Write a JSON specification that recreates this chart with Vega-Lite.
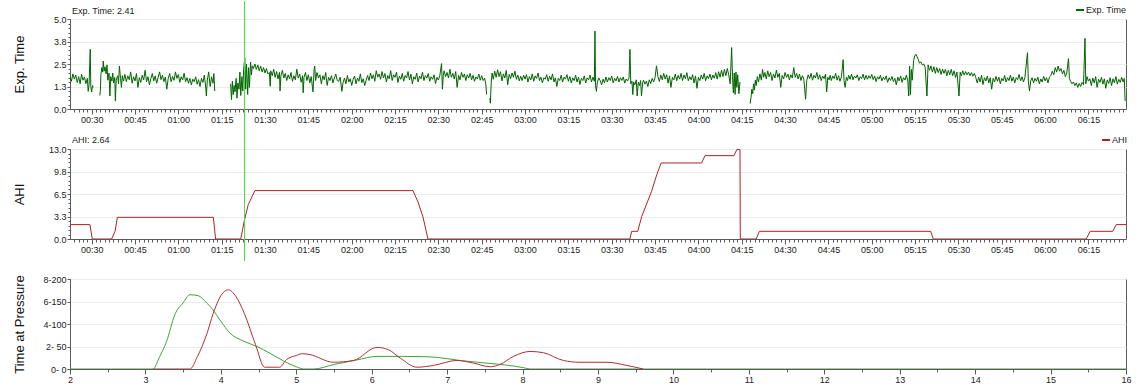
{
"$schema": "https://vega.github.io/schema/vega-lite/v6.json",
"padding": {"left": 12, "top": 0, "right": 5, "bottom": 0},
"spacing": 40,
"bounds": "flush",
"resolve": {"scale": {"x": "independent", "y": "independent", "color": "independent"}, "legend": {"color": "independent"}},
"datasets": {
"exp": [
{"t":22.5,"v":1.83,"s":1},{"t":23,"v":1.54,"s":1},{"t":23.5,"v":1.95,"s":1},{"t":24,"v":1.66,"s":1},{"t":24.5,"v":1.88,"s":1},{"t":25,"v":1.47,"s":1},{"t":25.5,"v":1.80,"s":1},{"t":26,"v":1.40,"s":1},{"t":26.5,"v":1.92,"s":1},{"t":27,"v":1.60,"s":1},{"t":27.5,"v":1.78,"s":1},{"t":28,"v":1.41,"s":1},{"t":28.5,"v":1.70,"s":1},{"t":28.8,"v":0.98,"s":1},{"t":29.1,"v":1.35,"s":1},{"t":29.5,"v":3.32,"s":1},{"t":29.7,"v":1.25,"s":1},{"t":30.0,"v":0.95,"s":1},{"t":30.3,"v":1.30,"s":1},{"t":30.5,"v":1.20,"s":1},
{"t":32.8,"v":0.75,"s":2},{"t":33.0,"v":1.0,"s":2},{"t":33.2,"v":1.90,"s":2},{"t":33.5,"v":2.30,"s":2},{"t":33.8,"v":2.05,"s":2},{"t":34.0,"v":2.66,"s":2},{"t":34.3,"v":2.10,"s":2},{"t":34.6,"v":2.35,"s":2},{"t":35.0,"v":1.95,"s":2},{"t":35.3,"v":2.45,"s":2},{"t":35.6,"v":1.60,"s":2},{"t":36.0,"v":2.00,"s":2},{"t":36.3,"v":0.72,"s":2},{"t":36.6,"v":1.80,"s":2},{"t":37.0,"v":1.55,"s":2},{"t":37.3,"v":2.00,"s":2},{"t":37.6,"v":1.45,"s":2},{"t":38.0,"v":1.75,"s":2},{"t":38.2,"v":0.44,"s":2},{"t":38.5,"v":1.60,"s":2},{"t":39.0,"v":1.85,"s":2},{"t":39.3,"v":1.40,"s":2},{"t":39.6,"v":2.39,"s":2},{"t":40.0,"v":1.70,"s":2},{"t":40.3,"v":1.20,"s":2},{"t":40.6,"v":1.85,"s":2},{"t":41.0,"v":1.55,"s":2},
{"t":41.5,"v":1.92,"s":2},{"t":42,"v":1.52,"s":2},{"t":42.5,"v":1.84,"s":2},{"t":43,"v":1.63,"s":2},{"t":43.5,"v":2.06,"s":2},{"t":44,"v":1.43,"s":2},{"t":44.5,"v":1.79,"s":2},{"t":45,"v":1.56,"s":2},{"t":45.5,"v":1.97,"s":2},{"t":46,"v":1.20,"s":2},{"t":46.5,"v":1.74,"s":2},{"t":47,"v":1.48,"s":2},{"t":47.5,"v":1.88,"s":2},{"t":48,"v":1.61,"s":2},{"t":48.5,"v":2.15,"s":2},{"t":49,"v":1.52,"s":2},{"t":49.5,"v":1.79,"s":2},{"t":50,"v":1.34,"s":2},{"t":50.5,"v":1.70,"s":2},{"t":51,"v":1.97,"s":2},{"t":51.5,"v":1.56,"s":2},{"t":52,"v":1.84,"s":2},{"t":52.5,"v":1.43,"s":2},{"t":53,"v":1.74,"s":2},{"t":53.5,"v":2.06,"s":2},{"t":54,"v":1.63,"s":2},{"t":54.5,"v":1.88,"s":2},{"t":55,"v":1.52,"s":2},{"t":55.5,"v":1.77,"s":2},{"t":56,"v":1.10,"s":2},{"t":56.5,"v":1.70,"s":2},{"t":57,"v":1.97,"s":2},{"t":57.5,"v":1.52,"s":2},{"t":58,"v":1.81,"s":2},{"t":58.5,"v":1.59,"s":2},{"t":59,"v":2.06,"s":2},{"t":59.5,"v":1.70,"s":2},{"t":60,"v":1.92,"s":2},{"t":60.5,"v":1.48,"s":2},{"t":61,"v":1.79,"s":2},{"t":61.5,"v":1.61,"s":2},{"t":62,"v":1.99,"s":2},{"t":62.5,"v":1.52,"s":2},{"t":63,"v":1.74,"s":2},{"t":63.5,"v":1.43,"s":2},{"t":64,"v":1.70,"s":2},{"t":64.5,"v":1.34,"s":2},{"t":65,"v":1.66,"s":2},{"t":65.5,"v":1.52,"s":2},{"t":66,"v":1.79,"s":2},{"t":66.5,"v":1.38,"s":2},{"t":67,"v":1.63,"s":2},{"t":67.5,"v":1.25,"s":2},{"t":68,"v":1.70,"s":2},{"t":68.5,"v":1.48,"s":2},{"t":69,"v":1.88,"s":2},{"t":69.5,"v":1.16,"s":2},{"t":69.7,"v":0.72,"s":2},{"t":70,"v":1.56,"s":2},{"t":70.5,"v":2.06,"s":2},{"t":71,"v":1.25,"s":2},{"t":71.5,"v":1.79,"s":2},{"t":72,"v":1.43,"s":2},{"t":72.3,"v":1.97,"s":2},{"t":72.6,"v":1.0,"s":2},
{"t":78.1,"v":1.40,"s":3},{"t":78.4,"v":0.52,"s":3},{"t":78.7,"v":1.55,"s":3},{"t":79.0,"v":0.80,"s":3},{"t":79.3,"v":1.30,"s":3},{"t":79.6,"v":0.95,"s":3},{"t":80.0,"v":1.70,"s":3},{"t":80.3,"v":0.60,"s":3},{"t":80.6,"v":1.45,"s":3},{"t":81.0,"v":1.10,"s":3},{"t":81.3,"v":2.05,"s":3},{"t":81.6,"v":0.75,"s":3},{"t":82.0,"v":1.80,"s":3},{"t":82.3,"v":1.00,"s":3},{"t":82.6,"v":2.20,"s":3},{"t":83.0,"v":2.85,"s":3},{"t":83.3,"v":1.10,"s":3},{"t":83.6,"v":2.50,"s":3},{"t":84.0,"v":0.81,"s":3},{"t":84.3,"v":2.30,"s":3},{"t":84.6,"v":1.20,"s":3},{"t":85.0,"v":2.60,"s":3},{"t":85.3,"v":1.90,"s":3},{"t":85.6,"v":2.40,"s":3},{"t":86.0,"v":2.25,"s":3},{"t":86.5,"v":2.50,"s":3},{"t":87.0,"v":2.20,"s":3},{"t":87.5,"v":2.45,"s":3},{"t":88.0,"v":2.12,"s":3},{"t":88.5,"v":2.38,"s":3},{"t":89.0,"v":2.05,"s":3},{"t":89.5,"v":2.30,"s":3},{"t":90.0,"v":2.00,"s":3},{"t":90.5,"v":2.25,"s":3},{"t":91.0,"v":1.95,"s":3},
{"t":91.5,"v":2.03,"s":3},{"t":91.8,"v":1.26,"s":3},{"t":92.0,"v":2.12,"s":3},{"t":92.5,"v":1.85,"s":3},{"t":93.0,"v":2.21,"s":3},{"t":93.5,"v":1.76,"s":3},{"t":94.0,"v":2.08,"s":3},{"t":94.5,"v":1.67,"s":3},{"t":95.0,"v":2.03,"s":3},{"t":95.2,"v":1.00,"s":3},{"t":95.5,"v":1.85,"s":3},{"t":96.0,"v":2.15,"s":3},{"t":96.5,"v":1.72,"s":3},{"t":97.0,"v":1.98,"s":3},{"t":97.5,"v":1.58,"s":3},{"t":98.0,"v":1.90,"s":3},{"t":98.5,"v":1.67,"s":3},{"t":99.0,"v":2.03,"s":3},{"t":99.5,"v":1.54,"s":3},{"t":100.0,"v":1.85,"s":3},{"t":100.5,"v":1.62,"s":3},{"t":101.0,"v":2.21,"s":3},{"t":101.5,"v":1.72,"s":3},{"t":102.0,"v":1.94,"s":3},{"t":102.5,"v":1.49,"s":3},{"t":103.0,"v":1.85,"s":3},{"t":103.2,"v":0.90,"s":3},{"t":103.5,"v":1.76,"s":3},{"t":104.0,"v":2.03,"s":3},{"t":104.5,"v":1.58,"s":3},{"t":105.0,"v":1.90,"s":3},{"t":105.5,"v":1.45,"s":3},{"t":106.0,"v":1.80,"s":3},{"t":106.6,"v":0.95,"s":3},{"t":107.0,"v":2.20,"s":3},{"t":107.2,"v":2.39,"s":3},{"t":107.5,"v":1.58,"s":3},{"t":108.0,"v":2.03,"s":3},{"t":108.5,"v":1.72,"s":3},{"t":109.0,"v":1.90,"s":3},{"t":109.5,"v":1.40,"s":3},{"t":110.0,"v":1.85,"s":3},{"t":110.5,"v":1.62,"s":3},{"t":111.0,"v":2.03,"s":3},{"t":111.5,"v":1.31,"s":3},{"t":112.0,"v":1.76,"s":3},{"t":112.5,"v":1.58,"s":3},{"t":113.0,"v":1.85,"s":3},{"t":113.5,"v":1.45,"s":3},{"t":114.0,"v":1.72,"s":3},{"t":114.5,"v":1.94,"s":3},{"t":115.0,"v":1.58,"s":3},
{"t":115.5,"v":1.54,"s":3},{"t":116.0,"v":1.77,"s":3},{"t":116.6,"v":0.98,"s":3},{"t":117.0,"v":1.46,"s":3},{"t":117.5,"v":1.72,"s":3},{"t":118.0,"v":1.40,"s":3},{"t":118.5,"v":1.86,"s":3},{"t":119.0,"v":1.50,"s":3},{"t":119.5,"v":1.68,"s":3},{"t":120.0,"v":1.31,"s":3},{"t":120.5,"v":1.65,"s":3},{"t":121.0,"v":1.83,"s":3},{"t":121.5,"v":1.40,"s":3},{"t":122.0,"v":1.72,"s":3},{"t":122.5,"v":1.54,"s":3},{"t":123.0,"v":1.95,"s":3},{"t":123.5,"v":1.46,"s":3},{"t":124.0,"v":1.68,"s":3},{"t":124.5,"v":1.30,"s":3},{"t":125.0,"v":1.60,"s":3},{"t":125.5,"v":1.86,"s":3},{"t":126.0,"v":1.58,"s":3},{"t":126.5,"v":2.00,"s":3},{"t":127.0,"v":1.68,"s":3},{"t":127.5,"v":1.90,"s":3},{"t":128.0,"v":1.54,"s":3},{"t":128.5,"v":2.13,"s":3},{"t":129.0,"v":1.77,"s":3},{"t":129.5,"v":1.95,"s":3},{"t":130.0,"v":1.65,"s":3},{"t":130.5,"v":2.08,"s":3},{"t":131.0,"v":1.72,"s":3},{"t":131.5,"v":1.97,"s":3},{"t":132.0,"v":1.50,"s":3},{"t":132.5,"v":1.86,"s":3},{"t":133.0,"v":1.68,"s":3},{"t":133.5,"v":2.13,"s":3},{"t":134.0,"v":1.58,"s":3},{"t":134.5,"v":1.90,"s":3},{"t":135.0,"v":1.76,"s":3},{"t":135.5,"v":2.04,"s":3},{"t":136.0,"v":1.47,"s":3},{"t":136.5,"v":1.83,"s":3},{"t":137.0,"v":1.65,"s":3},{"t":137.5,"v":1.97,"s":3},{"t":138.0,"v":1.54,"s":3},{"t":138.5,"v":1.86,"s":3},{"t":139.0,"v":1.72,"s":3},{"t":139.5,"v":2.08,"s":3},{"t":140.0,"v":1.61,"s":3},{"t":140.5,"v":1.94,"s":3},{"t":141.0,"v":1.40,"s":3},{"t":141.5,"v":1.79,"s":3},{"t":142.0,"v":1.65,"s":3},{"t":142.5,"v":2.00,"s":3},{"t":143.0,"v":1.50,"s":3},{"t":143.5,"v":1.83,"s":3},{"t":144.0,"v":1.68,"s":3},{"t":144.5,"v":2.04,"s":3},{"t":145.0,"v":1.58,"s":3},{"t":145.5,"v":1.86,"s":3},{"t":146.0,"v":1.72,"s":3},{"t":146.5,"v":1.97,"s":3},{"t":147.0,"v":1.54,"s":3},{"t":147.5,"v":1.79,"s":3},{"t":148.0,"v":1.65,"s":3},{"t":148.5,"v":1.90,"s":3},{"t":149.0,"v":1.41,"s":3},{"t":149.5,"v":1.76,"s":3},{"t":150.0,"v":1.61,"s":3},{"t":150.5,"v":1.86,"s":3},{"t":151.1,"v":2.52,"s":3},{"t":151.4,"v":1.10,"s":3},{"t":151.7,"v":1.85,"s":3},
{"t":152.0,"v":2.12,"s":3},{"t":152.5,"v":1.79,"s":3},{"t":153.0,"v":2.03,"s":3},{"t":153.5,"v":1.72,"s":3},{"t":154.0,"v":2.21,"s":3},{"t":154.5,"v":1.76,"s":3},{"t":155.0,"v":1.98,"s":3},{"t":155.5,"v":1.67,"s":3},{"t":156.0,"v":2.08,"s":3},{"t":156.5,"v":1.20,"s":3},{"t":157.0,"v":1.87,"s":3},{"t":157.5,"v":1.62,"s":3},{"t":158.0,"v":2.03,"s":3},{"t":158.5,"v":1.76,"s":3},{"t":159.0,"v":1.94,"s":3},{"t":159.5,"v":1.58,"s":3},{"t":160.0,"v":1.90,"s":3},{"t":160.5,"v":1.72,"s":3},{"t":161.0,"v":1.98,"s":3},{"t":161.5,"v":1.62,"s":3},{"t":162.0,"v":1.87,"s":3},{"t":162.5,"v":1.54,"s":3},{"t":163.0,"v":1.78,"s":3},{"t":163.5,"v":1.67,"s":3},{"t":164.0,"v":1.94,"s":3},{"t":164.5,"v":1.60,"s":3},{"t":165.0,"v":1.85,"s":3},{"t":165.5,"v":1.58,"s":3},{"t":166.0,"v":1.72,"s":3},{"t":166.4,"v":1.40,"s":3},{"t":166.7,"v":0.81,"s":3},
{"t":167.8,"v":0.60,"s":4},{"t":168.0,"v":0.32,"s":4},{"t":168.3,"v":1.50,"s":4},{"t":168.6,"v":2.00,"s":4},{"t":169.0,"v":1.65,"s":4},{"t":169.5,"v":2.10,"s":4},{"t":170.0,"v":1.76,"s":4},{"t":170.5,"v":2.18,"s":4},{"t":171.0,"v":1.80,"s":4},{"t":171.5,"v":2.07,"s":4},{"t":172.0,"v":1.56,"s":4},{"t":172.5,"v":1.95,"s":4},{"t":173.0,"v":1.72,"s":4},{"t":173.5,"v":2.14,"s":4},{"t":174.0,"v":1.35,"s":4},{"t":174.5,"v":1.92,"s":4},{"t":175.0,"v":1.69,"s":4},{"t":175.5,"v":2.00,"s":4},{"t":176.0,"v":1.76,"s":4},{"t":176.5,"v":2.10,"s":4},{"t":177.0,"v":1.65,"s":4},{"t":177.5,"v":1.88,"s":4},{"t":178.0,"v":1.56,"s":4},{"t":178.5,"v":1.82,"s":4},
{"t":179.0,"v":1.58,"s":4},{"t":179.5,"v":1.88,"s":4},{"t":180.0,"v":1.66,"s":4},{"t":180.5,"v":1.91,"s":4},{"t":181.0,"v":1.50,"s":4},{"t":181.5,"v":1.80,"s":4},{"t":182.0,"v":1.62,"s":4},{"t":182.5,"v":1.95,"s":4},{"t":183.0,"v":1.54,"s":4},{"t":183.5,"v":1.84,"s":4},{"t":184.0,"v":1.70,"s":4},{"t":184.5,"v":2.00,"s":4},{"t":185.0,"v":1.58,"s":4},{"t":185.5,"v":1.77,"s":4},{"t":186.0,"v":1.45,"s":4},{"t":186.5,"v":1.73,"s":4},{"t":187.0,"v":1.66,"s":4},{"t":187.5,"v":1.91,"s":4},{"t":188.0,"v":1.54,"s":4},{"t":188.5,"v":1.82,"s":4},{"t":189.0,"v":1.62,"s":4},{"t":189.5,"v":1.95,"s":4},{"t":190.0,"v":1.50,"s":4},{"t":190.5,"v":1.73,"s":4},{"t":191.0,"v":1.25,"s":4},{"t":191.5,"v":1.70,"s":4},{"t":192.0,"v":1.58,"s":4},{"t":192.5,"v":1.88,"s":4},{"t":193.0,"v":1.50,"s":4},{"t":193.5,"v":1.77,"s":4},{"t":194.0,"v":1.66,"s":4},{"t":194.5,"v":1.91,"s":4},{"t":195.0,"v":1.54,"s":4},{"t":195.5,"v":1.80,"s":4},{"t":196.0,"v":1.45,"s":4},{"t":196.5,"v":1.73,"s":4},{"t":197.0,"v":1.58,"s":4},{"t":197.5,"v":1.88,"s":4},{"t":198.0,"v":1.50,"s":4},{"t":198.5,"v":1.77,"s":4},{"t":199.0,"v":1.36,"s":4},{"t":199.5,"v":1.70,"s":4},{"t":200.0,"v":1.58,"s":4},{"t":200.5,"v":1.84,"s":4},{"t":201.0,"v":1.45,"s":4},{"t":201.5,"v":1.73,"s":4},{"t":202.0,"v":1.62,"s":4},{"t":202.5,"v":1.88,"s":4},{"t":203.0,"v":1.50,"s":4},{"t":203.5,"v":1.77,"s":4},{"t":204.0,"v":1.54,"s":4},{"t":204.2,"v":4.33,"s":4},{"t":204.4,"v":1.30,"s":4},{"t":204.7,"v":0.98,"s":4},{"t":205.0,"v":1.45,"s":4},{"t":205.5,"v":1.73,"s":4},{"t":206.0,"v":1.58,"s":4},{"t":206.5,"v":1.34,"s":4},{"t":207.0,"v":1.66,"s":4},{"t":207.5,"v":1.45,"s":4},
{"t":208.0,"v":1.78,"s":4},{"t":208.5,"v":1.50,"s":4},{"t":209.0,"v":1.74,"s":4},{"t":209.5,"v":1.58,"s":4},{"t":210.0,"v":1.83,"s":4},{"t":210.5,"v":1.45,"s":4},{"t":211.0,"v":1.70,"s":4},{"t":211.5,"v":1.56,"s":4},{"t":212.0,"v":1.81,"s":4},{"t":212.5,"v":1.50,"s":4},{"t":213.0,"v":1.74,"s":4},{"t":213.5,"v":1.58,"s":4},{"t":214.0,"v":1.78,"s":4},{"t":214.5,"v":1.44,"s":4},{"t":215.0,"v":1.67,"s":4},{"t":215.5,"v":1.56,"s":4},{"t":216.0,"v":1.74,"s":4},{"t":216.3,"v":3.31,"s":4},{"t":216.6,"v":1.40,"s":4},{"t":217.0,"v":1.55,"s":4},{"t":217.3,"v":0.80,"s":4},{"t":217.6,"v":1.50,"s":4},{"t":218.0,"v":1.35,"s":4},{"t":218.5,"v":1.62,"s":4},{"t":218.8,"v":0.72,"s":4},{"t":219.2,"v":1.48,"s":4},{"t":219.6,"v":1.30,"s":4},{"t":220.0,"v":1.58,"s":4},{"t":220.3,"v":0.72,"s":4},{"t":220.7,"v":1.45,"s":4},{"t":221.0,"v":1.60,"s":4},{"t":221.5,"v":1.38,"s":4},{"t":222.0,"v":1.55,"s":4},{"t":222.5,"v":1.25,"s":4},{"t":223.0,"v":1.62,"s":4},{"t":223.5,"v":1.42,"s":4},{"t":224.0,"v":1.70,"s":4},{"t":224.5,"v":1.50,"s":4},{"t":225.0,"v":1.75,"s":4},{"t":225.5,"v":2.40,"s":4},
{"t":226.0,"v":1.80,"s":4},{"t":226.5,"v":1.53,"s":4},{"t":227.0,"v":1.89,"s":4},{"t":227.5,"v":1.62,"s":4},{"t":228.0,"v":1.98,"s":4},{"t":228.5,"v":1.66,"s":4},{"t":229.0,"v":1.91,"s":4},{"t":229.5,"v":1.44,"s":4},{"t":230.0,"v":1.84,"s":4},{"t":230.5,"v":1.20,"s":4},{"t":231.0,"v":1.76,"s":4},{"t":231.5,"v":1.62,"s":4},{"t":232.0,"v":1.94,"s":4},{"t":232.5,"v":1.57,"s":4},{"t":233.0,"v":1.87,"s":4},{"t":233.5,"v":1.66,"s":4},{"t":234.0,"v":1.98,"s":4},{"t":234.5,"v":1.58,"s":4},{"t":235.0,"v":1.89,"s":4},{"t":235.5,"v":1.69,"s":4},{"t":236.0,"v":2.02,"s":4},{"t":236.5,"v":1.57,"s":4},{"t":237.0,"v":1.80,"s":4},{"t":237.5,"v":1.62,"s":4},{"t":238.0,"v":1.91,"s":4},{"t":238.5,"v":1.44,"s":4},{"t":239.0,"v":1.84,"s":4},{"t":239.5,"v":1.15,"s":4},{"t":240.0,"v":1.76,"s":4},{"t":240.5,"v":1.58,"s":4},{"t":241.0,"v":1.89,"s":4},{"t":241.5,"v":1.66,"s":4},{"t":242.0,"v":1.98,"s":4},{"t":242.5,"v":1.57,"s":4},{"t":243.0,"v":1.84,"s":4},{"t":243.5,"v":1.69,"s":4},{"t":244.0,"v":1.94,"s":4},{"t":244.5,"v":1.62,"s":4},{"t":245.0,"v":1.89,"s":4},{"t":245.5,"v":1.71,"s":4},{"t":246.0,"v":2.02,"s":4},{"t":246.5,"v":1.66,"s":4},{"t":247.0,"v":2.07,"s":4},{"t":247.5,"v":1.76,"s":4},{"t":248.0,"v":2.16,"s":4},{"t":248.5,"v":1.80,"s":4},{"t":249.0,"v":2.20,"s":4},{"t":249.5,"v":1.85,"s":4},{"t":250.0,"v":2.25,"s":4},{"t":250.5,"v":1.90,"s":4},{"t":251.0,"v":1.40,"s":4},{"t":251.5,"v":3.41,"s":4},{"t":251.8,"v":1.80,"s":4},{"t":252.1,"v":0.90,"s":4},{"t":252.4,"v":2.00,"s":4},{"t":252.7,"v":0.81,"s":4},{"t":253.0,"v":2.05,"s":4},{"t":253.3,"v":1.20,"s":4},{"t":253.6,"v":1.90,"s":4},{"t":254.0,"v":0.85,"s":4},{"t":254.4,"v":1.50,"s":4},
{"t":257.9,"v":0.30,"s":5},{"t":258.2,"v":0.63,"s":5},{"t":258.5,"v":1.10,"s":5},{"t":258.8,"v":0.85,"s":5},{"t":259.1,"v":1.40,"s":5},{"t":259.4,"v":1.05,"s":5},{"t":259.7,"v":1.60,"s":5},{"t":260.0,"v":1.30,"s":5},{"t":260.4,"v":1.80,"s":5},{"t":260.8,"v":1.50,"s":5},{"t":261.3,"v":1.95,"s":5},
{"t":261.8,"v":1.60,"s":5},{"t":262.2,"v":2.20,"s":5},{"t":262.6,"v":1.76,"s":5},{"t":263.0,"v":2.03,"s":5},{"t":263.5,"v":1.67,"s":5},{"t":264.0,"v":2.12,"s":5},{"t":264.5,"v":1.79,"s":5},{"t":265.0,"v":2.03,"s":5},{"t":265.5,"v":1.58,"s":5},{"t":266.0,"v":1.94,"s":5},{"t":266.5,"v":1.72,"s":5},{"t":267.0,"v":2.16,"s":5},{"t":267.5,"v":1.76,"s":5},{"t":268.0,"v":1.98,"s":5},{"t":268.5,"v":1.20,"s":5},{"t":269.0,"v":1.87,"s":5},{"t":269.5,"v":1.67,"s":5},{"t":270.0,"v":2.03,"s":5},{"t":270.5,"v":1.76,"s":5},{"t":271.0,"v":1.94,"s":5},{"t":271.5,"v":1.62,"s":5},{"t":272.0,"v":1.90,"s":5},{"t":272.5,"v":1.72,"s":5},{"t":273.0,"v":2.30,"s":5},{"t":273.5,"v":1.76,"s":5},{"t":274.0,"v":1.98,"s":5},{"t":274.5,"v":1.67,"s":5},{"t":275.0,"v":1.94,"s":5},{"t":275.5,"v":1.58,"s":5},{"t":276.0,"v":1.85,"s":5},{"t":276.5,"v":1.65,"s":5},{"t":277.1,"v":0.54,"s":5},{"t":277.5,"v":1.58,"s":5},{"t":278.0,"v":1.90,"s":5},{"t":278.5,"v":1.69,"s":5},{"t":279.0,"v":1.98,"s":5},{"t":279.5,"v":1.60,"s":5},{"t":280.0,"v":1.87,"s":5},{"t":280.5,"v":1.72,"s":5},{"t":281.0,"v":2.03,"s":5},{"t":281.5,"v":1.65,"s":5},{"t":282.0,"v":1.90,"s":5},{"t":282.5,"v":1.58,"s":5},{"t":283.0,"v":1.83,"s":5},{"t":283.5,"v":1.69,"s":5},{"t":284.0,"v":1.94,"s":5},{"t":284.4,"v":0.95,"s":5},{"t":284.8,"v":1.76,"s":5},{"t":285.2,"v":1.62,"s":5},{"t":285.6,"v":1.87,"s":5},{"t":286.0,"v":1.58,"s":5},{"t":286.5,"v":1.83,"s":5},{"t":287.0,"v":1.69,"s":5},{"t":287.5,"v":1.98,"s":5},{"t":288.0,"v":1.60,"s":5},{"t":288.5,"v":1.85,"s":5},{"t":289.0,"v":1.54,"s":5},{"t":289.5,"v":1.79,"s":5},{"t":290.1,"v":2.74,"s":5},{"t":290.4,"v":1.58,"s":5},{"t":290.8,"v":1.20,"s":5},{"t":291.2,"v":1.76,"s":5},{"t":291.6,"v":1.58,"s":5},{"t":292.0,"v":1.87,"s":5},{"t":292.5,"v":1.65,"s":5},{"t":293.0,"v":1.94,"s":5},{"t":293.5,"v":1.62,"s":5},{"t":294.0,"v":1.83,"s":5},{"t":294.5,"v":1.72,"s":5},{"t":295.0,"v":1.90,"s":5},{"t":295.5,"v":1.58,"s":5},{"t":296.0,"v":1.79,"s":5},{"t":296.5,"v":1.69,"s":5},{"t":297.0,"v":1.94,"s":5},{"t":297.5,"v":1.62,"s":5},{"t":298.0,"v":1.87,"s":5},{"t":298.5,"v":1.65,"s":5},{"t":299.0,"v":1.85,"s":5},
{"t":299.5,"v":1.70,"s":5},{"t":300.0,"v":1.92,"s":5},{"t":300.5,"v":1.63,"s":5},{"t":301.0,"v":1.84,"s":5},{"t":301.5,"v":1.52,"s":5},{"t":302.0,"v":1.79,"s":5},{"t":302.5,"v":1.66,"s":5},{"t":303.0,"v":1.88,"s":5},{"t":303.5,"v":1.56,"s":5},{"t":304.0,"v":1.77,"s":5},{"t":304.5,"v":1.63,"s":5},{"t":305.0,"v":1.84,"s":5},{"t":305.5,"v":1.48,"s":5},{"t":306.0,"v":1.74,"s":5},{"t":306.5,"v":1.59,"s":5},{"t":307.0,"v":1.81,"s":5},{"t":307.5,"v":1.52,"s":5},{"t":308.0,"v":1.70,"s":5},{"t":308.5,"v":1.34,"s":5},{"t":309.0,"v":1.77,"s":5},{"t":309.5,"v":1.56,"s":5},{"t":310.0,"v":1.84,"s":5},{"t":310.5,"v":1.48,"s":5},{"t":311.0,"v":1.74,"s":5},{"t":311.5,"v":1.61,"s":5},{"t":312.0,"v":1.88,"s":5},{"t":312.5,"v":1.52,"s":5},{"t":312.8,"v":0.72,"s":5},{"t":313.1,"v":2.39,"s":5},{"t":313.4,"v":0.80,"s":5},{"t":313.7,"v":2.20,"s":5},{"t":314.0,"v":1.60,"s":5},{"t":314.5,"v":2.70,"s":5},{"t":314.9,"v":2.95,"s":5},{"t":315.3,"v":3.04,"s":5},{"t":315.7,"v":2.90,"s":5},{"t":316.1,"v":2.75,"s":5},{"t":316.5,"v":2.55,"s":5},{"t":317.0,"v":2.62,"s":5},{"t":317.5,"v":2.45,"s":5},{"t":318.0,"v":2.50,"s":5},{"t":318.5,"v":2.30,"s":5},{"t":319.1,"v":0.72,"s":5},
{"t":319.5,"v":2.45,"s":5},{"t":320.0,"v":2.15,"s":5},{"t":320.5,"v":2.40,"s":5},{"t":321.0,"v":2.05,"s":5},{"t":321.5,"v":2.35,"s":5},{"t":322.0,"v":1.98,"s":5},{"t":322.5,"v":2.30,"s":5},{"t":323.0,"v":2.02,"s":5},{"t":323.5,"v":2.25,"s":5},{"t":324.0,"v":1.92,"s":5},{"t":324.5,"v":2.22,"s":5},{"t":325.0,"v":1.98,"s":5},{"t":325.5,"v":2.20,"s":5},{"t":326.0,"v":1.85,"s":5},{"t":326.5,"v":2.15,"s":5},{"t":327.0,"v":1.90,"s":5},{"t":327.5,"v":2.20,"s":5},{"t":328.0,"v":1.85,"s":5},{"t":328.5,"v":2.12,"s":5},{"t":329.0,"v":1.75,"s":5},{"t":329.5,"v":2.05,"s":5},{"t":330.2,"v":0.72,"s":5},{"t":330.6,"v":2.05,"s":5},{"t":331.0,"v":1.85,"s":5},{"t":331.5,"v":2.12,"s":5},{"t":332.0,"v":1.88,"s":5},{"t":332.5,"v":2.08,"s":5},{"t":333.0,"v":1.90,"s":5},{"t":333.5,"v":2.05,"s":5},{"t":334.0,"v":1.85,"s":5},{"t":334.5,"v":2.02,"s":5},{"t":335.0,"v":1.82,"s":5},{"t":335.5,"v":1.98,"s":5},
{"t":336.0,"v":1.75,"s":5},{"t":336.5,"v":1.45,"s":5},{"t":337.0,"v":1.77,"s":5},{"t":337.5,"v":1.50,"s":5},{"t":338.0,"v":1.88,"s":5},{"t":338.5,"v":1.36,"s":5},{"t":339.0,"v":1.74,"s":5},{"t":339.5,"v":1.56,"s":5},{"t":340.0,"v":1.83,"s":5},{"t":340.5,"v":1.45,"s":5},{"t":341.0,"v":1.74,"s":5},{"t":341.5,"v":1.10,"s":5},{"t":342.0,"v":1.70,"s":5},{"t":342.5,"v":1.50,"s":5},{"t":343.0,"v":1.81,"s":5},{"t":343.5,"v":1.54,"s":5},{"t":344.0,"v":1.77,"s":5},{"t":344.5,"v":1.40,"s":5},{"t":345.0,"v":1.70,"s":5},{"t":345.5,"v":1.56,"s":5},{"t":346.0,"v":1.86,"s":5},{"t":346.5,"v":1.50,"s":5},{"t":347.0,"v":1.74,"s":5},{"t":347.5,"v":1.58,"s":5},{"t":348.0,"v":1.88,"s":5},{"t":348.5,"v":1.54,"s":5},{"t":349.0,"v":1.77,"s":5},{"t":349.5,"v":1.45,"s":5},{"t":350.0,"v":1.74,"s":5},{"t":350.5,"v":1.63,"s":5},{"t":351.0,"v":1.92,"s":5},{"t":351.5,"v":1.56,"s":5},{"t":352.0,"v":1.79,"s":5},{"t":352.5,"v":1.50,"s":5},{"t":353.0,"v":1.74,"s":5},{"t":353.9,"v":3.13,"s":5},{"t":354.2,"v":1.55,"s":5},{"t":354.6,"v":1.00,"s":5},{"t":355.0,"v":1.56,"s":5},{"t":355.5,"v":1.74,"s":5},{"t":356.0,"v":1.45,"s":5},{"t":356.5,"v":1.70,"s":5},{"t":357.0,"v":1.54,"s":5},{"t":357.5,"v":1.77,"s":5},{"t":358.0,"v":1.40,"s":5},{"t":358.5,"v":1.67,"s":5},{"t":359.0,"v":1.50,"s":5},{"t":359.5,"v":1.81,"s":5},{"t":360.0,"v":1.56,"s":5},{"t":360.5,"v":1.74,"s":5},{"t":361.0,"v":1.45,"s":5},{"t":361.5,"v":1.77,"s":5},{"t":362.0,"v":1.85,"s":5},{"t":362.5,"v":2.10,"s":5},{"t":363.0,"v":1.90,"s":5},{"t":363.5,"v":2.30,"s":5},{"t":364.0,"v":2.05,"s":5},{"t":364.5,"v":2.39,"s":5},{"t":365.0,"v":2.10,"s":5},{"t":365.5,"v":2.25,"s":5},{"t":366.0,"v":1.95,"s":5},{"t":366.5,"v":2.15,"s":5},{"t":367.0,"v":1.80,"s":5},{"t":367.5,"v":2.00,"s":5},{"t":368.1,"v":2.80,"s":5},{"t":368.4,"v":1.70,"s":5},{"t":368.8,"v":1.55,"s":5},{"t":369.3,"v":1.40,"s":5},{"t":369.8,"v":1.50,"s":5},{"t":370.3,"v":1.30,"s":5},{"t":370.8,"v":1.45,"s":5},{"t":371.3,"v":1.20,"s":5},{"t":371.8,"v":1.42,"s":5},{"t":372.3,"v":1.25,"s":5},{"t":372.8,"v":1.48,"s":5},{"t":373.3,"v":1.35,"s":5},{"t":373.8,"v":3.93,"s":5},
{"t":374.1,"v":1.40,"s":5},{"t":374.5,"v":1.80,"s":5},{"t":375.0,"v":1.55,"s":5},{"t":375.5,"v":1.68,"s":5},{"t":376.0,"v":1.30,"s":5},{"t":376.5,"v":1.72,"s":5},{"t":377.0,"v":1.45,"s":5},{"t":377.5,"v":1.80,"s":5},{"t":378.0,"v":1.20,"s":5},{"t":378.5,"v":1.65,"s":5},{"t":379.0,"v":1.48,"s":5},{"t":379.5,"v":1.76,"s":5},{"t":380.0,"v":1.38,"s":5},{"t":380.5,"v":1.68,"s":5},{"t":381.0,"v":1.15,"s":5},{"t":381.5,"v":1.62,"s":5},{"t":382.0,"v":1.42,"s":5},{"t":382.5,"v":1.74,"s":5},{"t":383.0,"v":1.30,"s":5},{"t":383.5,"v":1.68,"s":5},{"t":384.0,"v":1.45,"s":5},{"t":384.5,"v":1.80,"s":5},{"t":385.0,"v":1.38,"s":5},{"t":385.5,"v":1.65,"s":5},{"t":386.0,"v":1.48,"s":5},{"t":386.5,"v":1.76,"s":5},{"t":387.0,"v":1.50,"s":5},{"t":387.4,"v":1.70,"s":5},{"t":387.7,"v":0.44,"s":5}
],
"ahi": [
{"t":22.5,"v":2.08},{"t":29.4,"v":2.08},{"t":30.2,"v":0},{"t":36.9,"v":0},{"t":38.1,"v":1.11},{"t":38.9,"v":3.13},{"t":72.1,"v":3.13},{"t":72.9,"v":0},{"t":81.6,"v":0},{"t":82.8,"v":2.56},{"t":84.2,"v":4.97},{"t":86.5,"v":6.99},{"t":141.2,"v":6.99},{"t":142.9,"v":5.4},{"t":144.6,"v":3.3},{"t":146.4,"v":0},{"t":216.3,"v":0},{"t":216.9,"v":1.11},{"t":219.0,"v":1.11},{"t":220.4,"v":3.28},{"t":223.8,"v":6.89},{"t":225.6,"v":9.3},{"t":227.1,"v":10.98},{"t":241.1,"v":10.98},{"t":242.3,"v":12.04},{"t":252.3,"v":12.04},{"t":253.3,"v":12.91},{"t":254.4,"v":12.91},{"t":254.5,"v":0},{"t":260.0,"v":0},{"t":261.1,"v":1.11},{"t":320.4,"v":1.11},{"t":321.3,"v":0},{"t":374.2,"v":0},{"t":375.6,"v":1.11},{"t":383.4,"v":1.11},{"t":384.6,"v":2.08},{"t":388,"v":2.08}
],
"tap": [
{"p":2,"y":0,"k":"g"},{"p":3.1,"y":0,"k":"g"},{"p":3.19,"y":28,"k":"g"},{"p":3.28,"y":61,"k":"g"},{"p":3.39,"y":121,"k":"g"},{"p":3.5,"y":147,"k":"g"},{"p":3.59,"y":165,"k":"g"},{"p":3.7,"y":163,"k":"g"},{"p":3.81,"y":147,"k":"g"},{"p":3.88,"y":135,"k":"g"},{"p":4.0,"y":106,"k":"g"},{"p":4.12,"y":80,"k":"g"},{"p":4.3,"y":62,"k":"g"},{"p":4.48,"y":50,"k":"g"},{"p":4.65,"y":35,"k":"g"},{"p":4.83,"y":18,"k":"g"},{"p":5.0,"y":5,"k":"g"},{"p":5.1,"y":0,"k":"g"},{"p":5.23,"y":0,"k":"g"},{"p":5.5,"y":10,"k":"g"},{"p":5.8,"y":20,"k":"g"},{"p":6.07,"y":28,"k":"g"},{"p":6.4,"y":28,"k":"g"},{"p":6.77,"y":27,"k":"g"},{"p":7.0,"y":23,"k":"g"},{"p":7.17,"y":19,"k":"g"},{"p":7.4,"y":15,"k":"g"},{"p":7.66,"y":11,"k":"g"},{"p":7.9,"y":6,"k":"g"},{"p":8.01,"y":3,"k":"g"},{"p":8.1,"y":0,"k":"g"},{"p":16,"y":0,"k":"g"},
{"p":3.1,"y":0,"k":"r"},{"p":3.59,"y":0,"k":"r"},{"p":3.69,"y":28,"k":"r"},{"p":3.81,"y":76,"k":"r"},{"p":3.9,"y":124,"k":"r"},{"p":4.0,"y":163,"k":"r"},{"p":4.1,"y":176,"k":"r"},{"p":4.2,"y":161,"k":"r"},{"p":4.31,"y":124,"k":"r"},{"p":4.46,"y":54,"k":"r"},{"p":4.58,"y":4,"k":"r"},{"p":4.78,"y":4,"k":"r"},{"p":4.87,"y":21,"k":"r"},{"p":5.0,"y":30,"k":"r"},{"p":5.08,"y":34,"k":"r"},{"p":5.18,"y":32,"k":"r"},{"p":5.49,"y":15,"k":"r"},{"p":5.76,"y":19,"k":"r"},{"p":6.07,"y":48,"k":"r"},{"p":6.22,"y":43,"k":"r"},{"p":6.38,"y":24,"k":"r"},{"p":6.6,"y":4,"k":"r"},{"p":6.82,"y":8,"k":"r"},{"p":7.13,"y":19,"k":"r"},{"p":7.35,"y":13,"k":"r"},{"p":7.57,"y":5,"k":"r"},{"p":7.7,"y":10,"k":"r"},{"p":7.88,"y":28,"k":"r"},{"p":8.1,"y":39,"k":"r"},{"p":8.28,"y":36,"k":"r"},{"p":8.54,"y":19,"k":"r"},{"p":8.76,"y":15,"k":"r"},{"p":9.12,"y":15,"k":"r"},{"p":9.38,"y":8,"k":"r"},{"p":9.6,"y":0,"k":"r"}
],
"cur": [{"t":82.9}]
},
"vconcat": [
{
"width": 1056, "height": 90,
"encoding": {
"x": {"field": "t", "type": "quantitative", "scale": {"domain": [22.5, 388], "nice": false, "zero": false},
"axis": {"title": null, "grid": false, "labelOverlap": false, "labelFlush": false, "labelPadding": 1,
"values": [24,25.5,27,28.5,30,31.5,33,34.5,36,37.5,39,40.5,42,43.5,45,46.5,48,49.5,51,52.5,54,55.5,57,58.5,60,61.5,63,64.5,66,67.5,69,70.5,72,73.5,75,76.5,78,79.5,81,82.5,84,85.5,87,88.5,90,91.5,93,94.5,96,97.5,99,100.5,102,103.5,105,106.5,108,109.5,111,112.5,114,115.5,117,118.5,120,121.5,123,124.5,126,127.5,129,130.5,132,133.5,135,136.5,138,139.5,141,142.5,144,145.5,147,148.5,150,151.5,153,154.5,156,157.5,159,160.5,162,163.5,165,166.5,168,169.5,171,172.5,174,175.5,177,178.5,180,181.5,183,184.5,186,187.5,189,190.5,192,193.5,195,196.5,198,199.5,201,202.5,204,205.5,207,208.5,210,211.5,213,214.5,216,217.5,219,220.5,222,223.5,225,226.5,228,229.5,231,232.5,234,235.5,237,238.5,240,241.5,243,244.5,246,247.5,249,250.5,252,253.5,255,256.5,258,259.5,261,262.5,264,265.5,267,268.5,270,271.5,273,274.5,276,277.5,279,280.5,282,283.5,285,286.5,288,289.5,291,292.5,294,295.5,297,298.5,300,301.5,303,304.5,306,307.5,309,310.5,312,313.5,315,316.5,318,319.5,321,322.5,324,325.5,327,328.5,330,331.5,333,334.5,336,337.5,339,340.5,342,343.5,345,346.5,348,349.5,351,352.5,354,355.5,357,358.5,360,361.5,363,364.5,366,367.5,369,370.5,372,373.5,375,376.5,378,379.5,381,382.5,384,385.5,387],
"labelExpr": "datum.value % 15 == 0 ? (format(floor(datum.value / 60), '02d') + ':' + format(datum.value % 60, '02d')) : ''",
"tickSize": {"condition": {"test": "datum.value % 15 == 0", "value": 5}, "value": 3}}}
},
"layer": [
{"data": {"name": "exp"}, "mark": {"type": "line", "strokeWidth": 1, "clip": true},
"encoding": {
"y": {"field": "v", "type": "quantitative", "scale": {"domain": [0, 5], "nice": false},
"axis": {"title": "Exp. Time", "grid": true, "labelOverlap": false, "labelPadding": 1,
"values": [0,0.25,0.5,0.75,1,1.25,1.5,1.75,2,2.25,2.5,2.75,3,3.25,3.5,3.75,4,4.25,4.5,4.75,5],
"labelExpr": "datum.value % 1.25 == 0 ? format(datum.value, '.1f') : ''",
"tickSize": {"condition": {"test": "datum.value % 1.25 == 0", "value": 3}, "value": 2},
"gridOpacity": {"condition": {"test": "datum.value % 1.25 == 0", "value": 1}, "value": 0}}},
"detail": {"field": "s", "type": "nominal"},
"color": {"datum": "Exp. Time", "type": "nominal", "scale": {"domain": ["Exp. Time"], "range": ["#006400"]},
"legend": {"orient": "none", "legendX": 1005, "legendY": -14, "title": null}}
}},
{"data": {"name": "cur"}, "mark": {"type": "rule", "color": "#3ee63e", "strokeWidth": 1},
"encoding": {"y": {"datum": 6.0,
"axis": {"title": "Exp. Time", "grid": true, "labelOverlap": false, "labelPadding": 1,
"values": [0,0.25,0.5,0.75,1,1.25,1.5,1.75,2,2.25,2.5,2.75,3,3.25,3.5,3.75,4,4.25,4.5,4.75,5],
"labelExpr": "datum.value % 1.25 == 0 ? format(datum.value, '.1f') : ''",
"tickSize": {"condition": {"test": "datum.value % 1.25 == 0", "value": 3}, "value": 2},
"gridOpacity": {"condition": {"test": "datum.value % 1.25 == 0", "value": 1}, "value": 0}}},
"y2": {"datum": -1.222}}},
{"data": {"name": "cur"}, "mark": {"type": "text", "align": "left", "baseline": "alphabetic", "font": "Liberation Sans", "fontSize": 9, "color": "#222"},
"encoding": {"x": {"datum": 23.2}, "y": {"datum": 5.3,
"axis": {"title": "Exp. Time", "grid": true, "labelOverlap": false, "labelPadding": 1,
"values": [0,0.25,0.5,0.75,1,1.25,1.5,1.75,2,2.25,2.5,2.75,3,3.25,3.5,3.75,4,4.25,4.5,4.75,5],
"labelExpr": "datum.value % 1.25 == 0 ? format(datum.value, '.1f') : ''",
"tickSize": {"condition": {"test": "datum.value % 1.25 == 0", "value": 3}, "value": 2},
"gridOpacity": {"condition": {"test": "datum.value % 1.25 == 0", "value": 1}, "value": 0}}},
"text": {"value": "Exp. Time: 2.41"}}}
]
},
{
"width": 1056, "height": 90,
"encoding": {
"x": {"field": "t", "type": "quantitative", "scale": {"domain": [22.5, 388], "nice": false, "zero": false},
"axis": {"title": null, "grid": false, "labelOverlap": false, "labelFlush": false, "labelPadding": 1,
"values": [24,25.5,27,28.5,30,31.5,33,34.5,36,37.5,39,40.5,42,43.5,45,46.5,48,49.5,51,52.5,54,55.5,57,58.5,60,61.5,63,64.5,66,67.5,69,70.5,72,73.5,75,76.5,78,79.5,81,82.5,84,85.5,87,88.5,90,91.5,93,94.5,96,97.5,99,100.5,102,103.5,105,106.5,108,109.5,111,112.5,114,115.5,117,118.5,120,121.5,123,124.5,126,127.5,129,130.5,132,133.5,135,136.5,138,139.5,141,142.5,144,145.5,147,148.5,150,151.5,153,154.5,156,157.5,159,160.5,162,163.5,165,166.5,168,169.5,171,172.5,174,175.5,177,178.5,180,181.5,183,184.5,186,187.5,189,190.5,192,193.5,195,196.5,198,199.5,201,202.5,204,205.5,207,208.5,210,211.5,213,214.5,216,217.5,219,220.5,222,223.5,225,226.5,228,229.5,231,232.5,234,235.5,237,238.5,240,241.5,243,244.5,246,247.5,249,250.5,252,253.5,255,256.5,258,259.5,261,262.5,264,265.5,267,268.5,270,271.5,273,274.5,276,277.5,279,280.5,282,283.5,285,286.5,288,289.5,291,292.5,294,295.5,297,298.5,300,301.5,303,304.5,306,307.5,309,310.5,312,313.5,315,316.5,318,319.5,321,322.5,324,325.5,327,328.5,330,331.5,333,334.5,336,337.5,339,340.5,342,343.5,345,346.5,348,349.5,351,352.5,354,355.5,357,358.5,360,361.5,363,364.5,366,367.5,369,370.5,372,373.5,375,376.5,378,379.5,381,382.5,384,385.5,387],
"labelExpr": "datum.value % 15 == 0 ? (format(floor(datum.value / 60), '02d') + ':' + format(datum.value % 60, '02d')) : ''",
"tickSize": {"condition": {"test": "datum.value % 15 == 0", "value": 5}, "value": 3}}}
},
"layer": [
{"data": {"name": "ahi"}, "mark": {"type": "line", "strokeWidth": 1, "clip": true},
"encoding": {
"y": {"field": "v", "type": "quantitative", "scale": {"domain": [0, 13], "nice": false},
"axis": {"title": "AHI", "grid": true, "labelOverlap": false, "labelPadding": 1,
"values": [0,0.65,1.3,1.95,2.6,3.25,3.9,4.55,5.2,5.85,6.5,7.15,7.8,8.45,9.1,9.75,10.4,11.05,11.7,12.35,13],
"labelExpr": "abs(datum.value / 3.25 - round(datum.value / 3.25)) < 0.001 ? format(datum.value, '.1f') : ''",
"tickSize": {"condition": {"test": "abs(datum.value / 3.25 - round(datum.value / 3.25)) < 0.001", "value": 3}, "value": 2},
"gridOpacity": {"condition": {"test": "abs(datum.value / 3.25 - round(datum.value / 3.25)) < 0.001", "value": 1}, "value": 0}}},
"color": {"datum": "AHI", "type": "nominal", "scale": {"domain": ["AHI"], "range": ["#b22222"]},
"legend": {"orient": "none", "legendX": 1031, "legendY": -14, "title": null}}
}},
{"data": {"name": "cur"}, "mark": {"type": "rule", "color": "#3ee63e", "strokeWidth": 1},
"encoding": {"y": {"datum": 15.6,
"axis": {"title": "AHI", "grid": true, "labelOverlap": false, "labelPadding": 1,
"values": [0,0.65,1.3,1.95,2.6,3.25,3.9,4.55,5.2,5.85,6.5,7.15,7.8,8.45,9.1,9.75,10.4,11.05,11.7,12.35,13],
"labelExpr": "abs(datum.value / 3.25 - round(datum.value / 3.25)) < 0.001 ? format(datum.value, '.1f') : ''",
"tickSize": {"condition": {"test": "abs(datum.value / 3.25 - round(datum.value / 3.25)) < 0.001", "value": 3}, "value": 2},
"gridOpacity": {"condition": {"test": "abs(datum.value / 3.25 - round(datum.value / 3.25)) < 0.001", "value": 1}, "value": 0}}},
"y2": {"datum": -3.18}}},
{"data": {"name": "cur"}, "mark": {"type": "text", "align": "left", "baseline": "alphabetic", "font": "Liberation Sans", "fontSize": 9, "color": "#222"},
"encoding": {"x": {"datum": 23.2}, "y": {"datum": 13.8,
"axis": {"title": "AHI", "grid": true, "labelOverlap": false, "labelPadding": 1,
"values": [0,0.65,1.3,1.95,2.6,3.25,3.9,4.55,5.2,5.85,6.5,7.15,7.8,8.45,9.1,9.75,10.4,11.05,11.7,12.35,13],
"labelExpr": "abs(datum.value / 3.25 - round(datum.value / 3.25)) < 0.001 ? format(datum.value, '.1f') : ''",
"tickSize": {"condition": {"test": "abs(datum.value / 3.25 - round(datum.value / 3.25)) < 0.001", "value": 3}, "value": 2},
"gridOpacity": {"condition": {"test": "abs(datum.value / 3.25 - round(datum.value / 3.25)) < 0.001", "value": 1}, "value": 0}}},
"text": {"value": "AHI: 2.64"}}}
]
},
{
"width": 1056, "height": 90,
"encoding": {
"x": {"field": "p", "type": "quantitative", "scale": {"domain": [2, 16], "nice": false, "zero": false},
"axis": {"title": null, "grid": false, "labelOverlap": false, "labelFlush": false, "labelPadding": 1,
"values": [2,2.5,3,3.5,4,4.5,5,5.5,6,6.5,7,7.5,8,8.5,9,9.5,10,10.5,11,11.5,12,12.5,13,13.5,14,14.5,15,15.5,16],
"labelExpr": "datum.value % 1 == 0 ? format(datum.value, 'd') : ''",
"tickSize": {"condition": {"test": "datum.value % 1 == 0", "value": 5}, "value": 3}}}
},
"layer": [
{"data": {"name": "tap"}, "mark": {"type": "line", "strokeWidth": 1, "interpolate": "monotone", "clip": true},
"encoding": {
"y": {"field": "y", "type": "quantitative", "scale": {"domain": [0, 200], "nice": false},
"axis": {"title": "Time at Pressure", "grid": true, "labelOverlap": false, "labelPadding": 1, "tickSize": 3,
"values": [0, 50, 100, 150, 200],
"labelExpr": "(datum.value / 25) + '-' + (datum.value < 10 ? '   ' : (datum.value < 100 ? ' ' : '')) + datum.value"}},
"color": {"field": "k", "type": "nominal", "scale": {"domain": ["g", "r"], "range": ["#3fa33f", "#b33030"]}, "legend": null}
}},
{"data": {"name": "cur"}, "mark": {"type": "text", "align": "left", "baseline": "alphabetic", "font": "Liberation Sans", "fontSize": 9, "color": "#222"},
"encoding": {"x": {"datum": 2.03}, "y": {"datum": 212.4,
"axis": {"title": "Time at Pressure", "grid": true, "labelOverlap": false, "labelPadding": 1, "tickSize": 3,
"values": [0, 50, 100, 150, 200],
"labelExpr": "(datum.value / 25) + '-' + (datum.value < 10 ? '   ' : (datum.value < 100 ? ' ' : '')) + datum.value"}},
"text": {"value": "Peak 176.067"}}}
]
}
],
"config": {
"font": "Liberation Sans",
"view": {"stroke": "#5a5a5a", "strokeWidth": 1},
"axis": {"labelFont": "Liberation Sans", "labelFontSize": 9, "labelColor": "#222", "labelOverlap": false, "labelFlush": false, "domainColor": "#5a5a5a", "tickColor": "#5a5a5a", "titleFont": "Liberation Sans", "titleFontSize": 13, "titleFontWeight": "normal", "titleColor": "#111", "gridColor": "#ececec"},
"axisY": {"titleX": -44, "titleBaseline": "bottom", "titleAngle": -90},
"legend": {"labelFont": "Liberation Sans", "labelFontSize": 9, "labelColor": "#222", "symbolType": "stroke", "symbolStrokeWidth": 2, "symbolSize": 64, "labelOffset": 1, "padding": 0}
}
}
